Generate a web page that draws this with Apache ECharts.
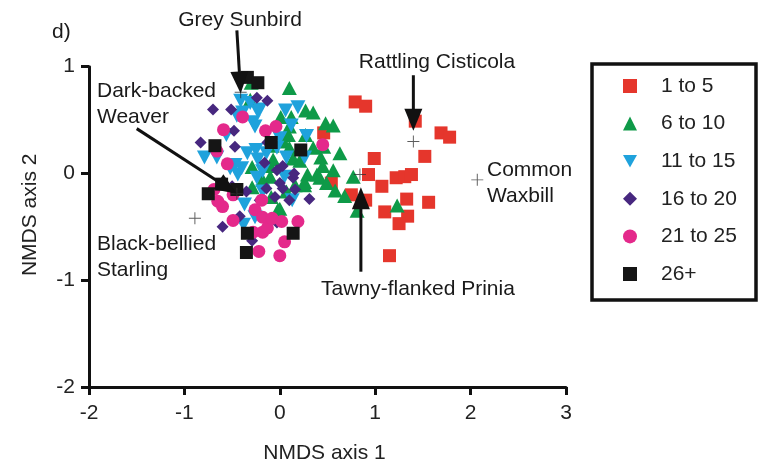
<!DOCTYPE html>
<html>
<head>
<meta charset="utf-8">
<script src="https://cdn.jsdelivr.net/npm/echarts@6/dist/echarts.min.js"></script>
<style>
  html, body { margin: 0; padding: 0; background: #fff; }
  #chart { width: 761px; height: 470px; }
</style>
</head>
<body>
<div id="chart"></div>
<script>
// Site groups (number of sites) and NMDS ordination scores [axis 1, axis 2]
const groups = ['1 to 5', '6 to 10', '11 to 15', '16 to 20', '21 to 25', '26+'];
const xTicks = [-2, -1, 0, 1, 2, 3];
const yTicks = [-2, -1, 0, 1];

const g1to5 = [
  [0.79, 0.67], [0.90, 0.63], [1.42, 0.49], [1.69, 0.38], [1.78, 0.34], [0.46, 0.38],
  [1.52, 0.16], [0.99, 0.14], [0.93, -0.01], [1.07, -0.12], [1.22, -0.04], [1.31, -0.03],
  [1.38, -0.01], [0.54, -0.09], [0.75, -0.20], [0.90, -0.25], [1.33, -0.24], [1.56, -0.27],
  [1.10, -0.36], [1.34, -0.40], [1.25, -0.47], [1.15, -0.77]
];
const g6to10 = [
  [-0.30, 0.85], [0.10, 0.80], [-0.31, 0.69], [0.27, 0.59], [0.35, 0.57], [0.01, 0.53],
  [0.12, 0.53], [0.48, 0.47], [0.56, 0.45], [0.10, 0.44], [0.09, 0.36], [0.27, 0.36],
  [0.04, 0.30], [-0.08, 0.26], [0.10, 0.24], [0.35, 0.24], [0.46, 0.25], [0.63, 0.19],
  [0.14, 0.14], [0.21, 0.12], [0.43, 0.15], [0.45, 0.07], [0.56, 0.03], [-0.29, 0.06],
  [-0.10, 0.07], [-0.10, -0.03], [0.29, -0.01], [0.39, -0.01], [0.26, -0.11], [0.42, -0.04],
  [0.77, -0.03], [0.58, -0.16], [0.68, -0.21], [0.81, -0.35], [0.07, -0.17], [-0.29, -0.13],
  [-0.18, -0.06], [-0.09, -0.22], [0.00, -0.33], [0.16, -0.11], [0.49, -0.09], [1.23, -0.30],
  [-0.07, 0.13], [0.26, -0.08], [-0.02, -0.34]
];
const g11to15 = [
  [-0.41, 0.68], [-0.31, 0.66], [-0.21, 0.60], [-0.39, 0.57], [-0.23, 0.58], [-0.28, 0.48],
  [-0.26, 0.44], [-0.56, 0.36], [-0.66, 0.15], [-0.79, 0.15], [-0.47, 0.08], [-0.44, -0.01],
  [-0.34, 0.19], [-0.25, 0.22], [-0.14, 0.19], [-0.03, 0.24], [0.06, 0.59], [0.12, 0.45],
  [0.00, 0.33], [0.07, 0.15], [-0.18, 0.02], [-0.24, -0.04], [0.05, -0.03], [0.13, -0.25],
  [-0.37, -0.29], [-0.26, -0.41], [-0.38, -0.48], [-0.52, 0.05], [0.28, 0.35], [0.26, 0.15],
  [-0.40, 0.05], [-0.23, 0.13], [-0.18, -0.17], [-0.45, 0.54], [0.19, 0.62]
];
const g16to20 = [
  [-0.70, 0.60], [-0.51, 0.60], [-0.24, 0.71], [-0.13, 0.68], [-0.83, 0.29], [-0.48, 0.40],
  [-0.47, 0.25], [-0.13, 0.29], [-0.60, -0.50], [-0.42, -0.40], [-0.29, -0.63], [0.14, -0.04],
  [0.16, -0.15], [0.31, -0.24], [-0.03, -0.46], [-0.03, 0.03], [0.00, -0.09], [0.10, -0.25],
  [-0.21, -0.25], [0.03, 0.07], [-0.05, -0.22], [-0.14, -0.14], [0.03, -0.14], [-0.50, -0.12],
  [-0.35, -0.17], [-0.16, 0.10], [0.15, 0.00]
];
const g21to25 = [
  [-0.39, 0.53], [-0.04, 0.44], [-0.15, 0.40], [-0.59, 0.41], [-0.66, 0.21], [-0.55, 0.09],
  [-0.69, -0.15], [-0.49, -0.20], [-0.19, -0.25], [-0.26, -0.34], [-0.18, -0.41], [-0.28, -0.55],
  [-0.18, -0.55], [-0.49, -0.44], [0.19, -0.45], [0.05, -0.64], [-0.22, -0.73], [0.00, -0.77],
  [-0.60, -0.31], [-0.13, -0.51], [-0.08, -0.42], [0.45, 0.27], [0.02, -0.45], [-0.65, -0.26]
];
const g26plus = [
  [-0.34, 0.90], [-0.23, 0.85], [-0.68, 0.26], [-0.09, 0.29], [0.22, 0.22], [-0.75, -0.19],
  [-0.61, -0.10], [-0.45, -0.15], [-0.34, -0.56], [0.14, -0.56], [-0.35, -0.74]
];

// Species centroids
const speciesNames = ['Grey Sunbird', 'Dark-backed Weaver', 'Black-bellied Starling',
                      'Rattling Cisticola', 'Tawny-flanked Prinia', 'Common Waxbill'];
const speciesScores = [[-0.41, 0.76], [-0.45, -0.19], [-0.89, -0.42],
                       [1.40, 0.30], [0.84, -0.01], [2.07, -0.06]];

const FONT = '"Liberation Sans", Arial, Helvetica, sans-serif';
const INK = '#1a1a1a';

const groupData = [g1to5, g6to10, g11to15, g16to20, g21to25, g26plus];
const groupLook = [
  { color: '#e5362c', symbol: 'rect', size: 13, rotate: 0, icon: 'rect' },
  { color: '#0e9a48', symbol: 'triangle', size: [15, 14], rotate: 0, icon: 'triangle' },
  { color: '#1fa2dc', symbol: 'triangle', size: [15, 14], rotate: 180, icon: 'path://M0,0H10L5,9Z' },
  { color: '#47277f', symbol: 'diamond', size: 12, rotate: 0, icon: 'diamond' },
  { color: '#e4298b', symbol: 'circle', size: 13, rotate: 0, icon: 'circle' },
  { color: '#151515', symbol: 'rect', size: 13, rotate: 0, icon: 'rect' }
];

const series = groups.map((name, i) => ({
  name: name,
  type: 'scatter',
  data: groupData[i],
  symbol: groupLook[i].symbol,
  symbolSize: groupLook[i].size,
  symbolRotate: groupLook[i].rotate,
  itemStyle: { color: groupLook[i].color, opacity: 1 },
  emphasis: { disabled: true },
  animation: false
}));

series.push({
  name: 'species',
  type: 'scatter',
  data: speciesScores.map((v, i) => ({ name: speciesNames[i], value: v })),
  symbol: 'path://M4.6,0h0.8v4.6h4.6v0.8h-4.6v4.6h-0.8v-4.6h-4.6v-0.8h4.6z',
  symbolSize: 12,
  itemStyle: { color: '#333' },
  z: 3,
  emphasis: { disabled: true },
  animation: false
});

const axisCommon = {
  type: 'value',
  axisLine: { show: true, onZero: false, lineStyle: { color: '#111', width: 3 } },
  axisTick: { show: true, length: 8, lineStyle: { color: '#111', width: 3 } },
  splitLine: { show: false },
  nameLocation: 'middle'
};

const chart = echarts.init(document.getElementById('chart'), null, { renderer: 'canvas' });

chart.setOption({
  backgroundColor: '#fff',
  animation: false,
  grid: { left: 89, top: 66.7, width: 477, height: 320.3 },
  xAxis: Object.assign({}, axisCommon, {
    min: xTicks[0], max: xTicks[xTicks.length - 1], interval: 1,
    axisLabel: { fontSize: 21, color: '#222', margin: 16, fontFamily: FONT },
    name: 'NMDS axis 1', nameGap: 56,
    nameTextStyle: { fontSize: 21, color: '#222', fontFamily: FONT, padding: [0, 6, 0, 0] }
  }),
  yAxis: Object.assign({}, axisCommon, {
    min: yTicks[0], max: yTicks[yTicks.length - 1], interval: 1,
    axisLabel: { fontSize: 21, color: '#222', margin: 14, fontFamily: FONT },
    name: 'NMDS axis 2', nameGap: 48,
    nameTextStyle: { fontSize: 21, color: '#222', fontFamily: FONT, padding: [0, 0, 0, 24] }
  }),
  legend: {
    data: groups.map((name, i) => ({ name: name, icon: groupLook[i].icon })),
    orient: 'vertical',
    left: 623, top: 75.5,
    padding: 0,
    itemWidth: 14, itemHeight: 14, itemGap: 16.6,
    selectedMode: false,
    textStyle: { fontSize: 21, lineHeight: 21, color: '#222', fontFamily: FONT, padding: [0, 0, 0, 19] }
  },
  series: series
});

// Annotation arrows point from labels to species centroids (data space)
const arrows = [
  [[-0.45, 1.34], [-0.41, 0.75]],
  [[1.40, 0.92], [1.40, 0.40]],
  [[0.85, -0.92], [0.85, -0.13]],
  [[-1.50, 0.42], [-0.45, -0.19]]
];

function arrowShapes(a, b) {
  const p0 = chart.convertToPixel({ gridIndex: 0 }, a);
  const p1 = chart.convertToPixel({ gridIndex: 0 }, b);
  const dx = p1[0] - p0[0], dy = p1[1] - p0[1];
  const len = Math.hypot(dx, dy), ux = dx / len, uy = dy / len;
  const hl = 22, hw = 9;
  const bx = p1[0] - ux * hl, by = p1[1] - uy * hl;
  return [
    { type: 'line', z: 100, silent: true,
      shape: { x1: p0[0], y1: p0[1], x2: bx + ux * 2, y2: by + uy * 2 },
      style: { stroke: '#111', lineWidth: 3 } },
    { type: 'polygon', z: 100, silent: true,
      shape: { points: [[p1[0], p1[1]], [bx - uy * hw, by + ux * hw], [bx + uy * hw, by - ux * hw]] },
      style: { fill: '#111' } }
  ];
}

function label(text, x, y, align, vAlign) {
  return {
    type: 'text', z: 100, silent: true, x: x, y: y,
    style: {
      text: text, fill: INK, fontSize: 21, fontFamily: FONT, lineHeight: 26,
      align: align, verticalAlign: vAlign, textAlign: align, textVerticalAlign: vAlign
    }
  };
}

const graphics = [
  { type: 'rect', z: 1, silent: true,
    shape: { x: 592, y: 64, width: 164, height: 236 },
    style: { fill: 'none', stroke: '#111', lineWidth: 3.5 } },
  label('d)', 52, 32, 'left', 'middle'),
  label('Grey Sunbird', 240, 20, 'center', 'middle'),
  label('Rattling Cisticola', 437, 62, 'center', 'middle'),
  label('Tawny-flanked Prinia', 418, 289, 'center', 'middle'),
  label('Dark-backed\nWeaver', 97, 78, 'left', 'top'),
  label('Black-bellied\nStarling', 97, 231, 'left', 'top'),
  label('Common\nWaxbill', 487, 157, 'left', 'top')
];
arrows.forEach(ar => arrowShapes(ar[0], ar[1]).forEach(s => graphics.push(s)));

chart.setOption({ graphic: graphics });
</script>
</body>
</html>
